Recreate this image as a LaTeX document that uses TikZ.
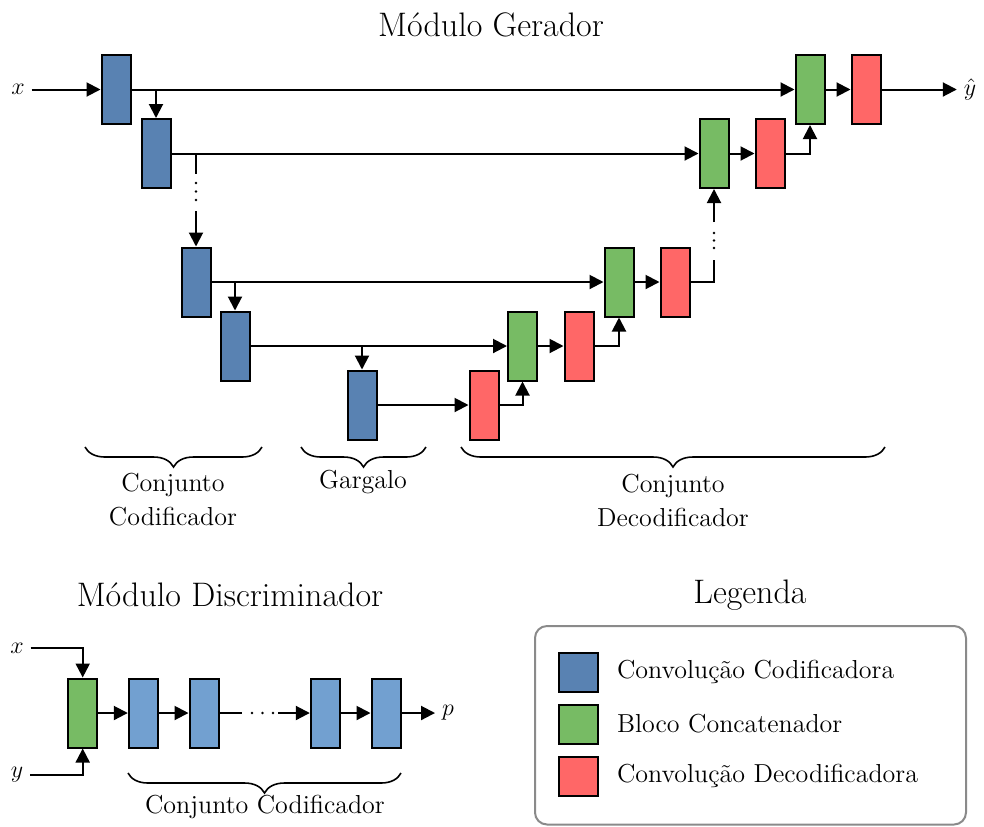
\documentclass[tikz,border=0pt]{standalone}
\usetikzlibrary{arrows.meta,decorations.pathreplacing,calc}
\definecolor{encblue}{HTML}{5982B2}
\definecolor{discblue}{HTML}{72A0D0}
\definecolor{catgreen}{HTML}{77BB64}
\definecolor{decred}{HTML}{FF6767}
\definecolor{boxgray}{HTML}{8A8A8A}
\begin{document}
\begin{tikzpicture}[x=0.5pt,y=-0.5pt,
  font=\fontsize{13pt}{17pt}\selectfont,
  blk/.style={draw=black, line width=1pt, minimum width=14.5pt,
    minimum height=34.5pt, inner sep=0pt},
  enc/.style={blk, fill=encblue},
  disc/.style={blk, fill=discblue},
  cat/.style={blk, fill=catgreen},
  dec/.style={blk, fill=decred},
  wire/.style={line width=1pt},
  link/.style={wire, -{Triangle[length=7pt,width=7pt]}},
  brc/.style={line width=0.8pt, decorate, decoration={brace, amplitude=10pt}},
  title/.style={font=\fontsize{17pt}{20pt}\selectfont},
  lbl/.style={align=center},
  key/.style={draw=black, line width=1pt, minimum width=19.5pt,
    minimum height=19.5pt, inner sep=0pt},
  dotmark/.style={fill=black}
]
\useasboundingbox (0,0) rectangle (984,826);

% ---------------- generator ----------------
\node[title] (tgen) at (491,25) {Módulo Gerador};

\node (xin) at (18,89.5) {$x$};
\node[enc] (e1) at (116,89.5) {};
\node[enc] (e2) at (156,153.5) {};
\node[enc] (e3) at (196,282) {};
\node[enc] (e4) at (235,346) {};
\node[enc] (bn) at (362,405) {};
\node[dec] (d1) at (484,405) {};
\node[cat] (c1) at (522.5,346) {};
\node[dec] (d2) at (579,346) {};
\node[cat] (c2) at (619,282) {};
\node[dec] (d3) at (675,282) {};
\node[cat] (c3) at (714,153.5) {};
\node[dec] (d4) at (770,153.5) {};
\node[cat] (c4) at (810,89.5) {};
\node[dec] (d5) at (866,89.5) {};
\node (yhat) at (970,89.5) {$\hat{y}$};

% encoder path and skip connections
\draw[link] (xin) -- (e1);
\draw[link] (e1) -- (c4);
\draw[link] (e2.north |- e1.east) -- (e2.north);
\draw[link] (e2) -- (c3);
\coordinate (g1a) at (196,174);
\coordinate (g1b) at (196,211);
\draw[wire] (e3.north |- e2.east) -- (g1a);
\foreach \yy in {183,191.5,200} \fill[dotmark] (196,\yy) circle (1.4);
\draw[link] (g1b) -- (e3.north);
\draw[link] (e3) -- (c2);
\draw[link] (e4.north |- e3.east) -- (e4.north);
\draw[link] (e4) -- (c1);
\draw[link] (bn.north |- e4.east) -- (bn.north);
\draw[link] (bn) -- (d1);

% decoder path
\draw[link] (d1.east) -| (c1.south);
\draw[link] (c1) -- (d2);
\draw[link] (d2.east) -| (c2.south);
\draw[link] (c2) -- (d3);
\coordinate (g2a) at (714,260);
\coordinate (g2b) at (714,222);
\draw[wire] (d3.east) -| (g2a);
\foreach \yy in {233,240.5,248} \fill[dotmark] (714,\yy) circle (1.4);
\draw[link] (g2b) -- (c3.south);
\draw[link] (c3) -- (d4);
\draw[link] (d4.east) -| (c4.south);
\draw[link] (c4) -- (d5);
\draw[link] (d5) -- (yhat);

% braces and group names
\draw[brc] (262,447) -- (85,447);
\node[lbl] (tenc) at (173,500) {Conjunto\\Codificador};
\draw[brc] (426,447) -- (301,447);
\node[lbl] (tbn) at (363,482) {Gargalo};
\draw[brc] (885,447) -- (461,447);
\node[lbl] (tdec) at (673,500) {Conjunto\\Decodificador};

% ---------------- discriminator ----------------
\node[title] (tdisc) at (230,595) {Módulo Discriminador};
\node (dx) at (17,648) {$x$};
\node (dy) at (17,775) {$y$};
\node[cat] (dc) at (82.7,713) {};
\node[disc] (q1) at (143.3,713) {};
\node[disc] (q2) at (204,713) {};
\node[disc] (q3) at (325.3,713) {};
\node[disc] (q4) at (386,713) {};
\node (pout) at (448,713) {$p$};

\draw[link] (dx) -| (dc.north);
\draw[link] (dy) -| (dc.south);
\draw[link] (dc) -- (q1);
\draw[link] (q1) -- (q2);
\coordinate (g3a) at (242,713);
\coordinate (g3b) at (278,713);
\draw[wire] (q2) -- (g3a);
\foreach \xx in {252,262.5,273} \fill[dotmark] (\xx,713) circle (1.4);
\draw[link] (g3b) -- (q3);
\draw[link] (q3) -- (q4);
\draw[link] (q4) -- (pout);

\draw[brc] (401,773) -- (128,773);
\node[lbl] (tdenc) at (265,807) {Conjunto Codificador};

% ---------------- legend ----------------
\node[title] (tleg) at (750,595) {Legenda};
\draw[boxgray, line width=1pt, rounded corners=6pt] (535,626) rectangle (966,824.5);
\node[key, fill=encblue] (k1) at (578,672) {};
\node[key, fill=catgreen] (k2) at (578,724) {};
\node[key, fill=decred] (k3) at (578,776) {};
\node[anchor=west] (k1t) at (610,672) {Convolução Codificadora};
\node[anchor=west] (k2t) at (610,724) {Bloco Concatenador};
\node[anchor=west] (k3t) at (610,776) {Convolução Decodificadora};
\end{tikzpicture}
\end{document}
